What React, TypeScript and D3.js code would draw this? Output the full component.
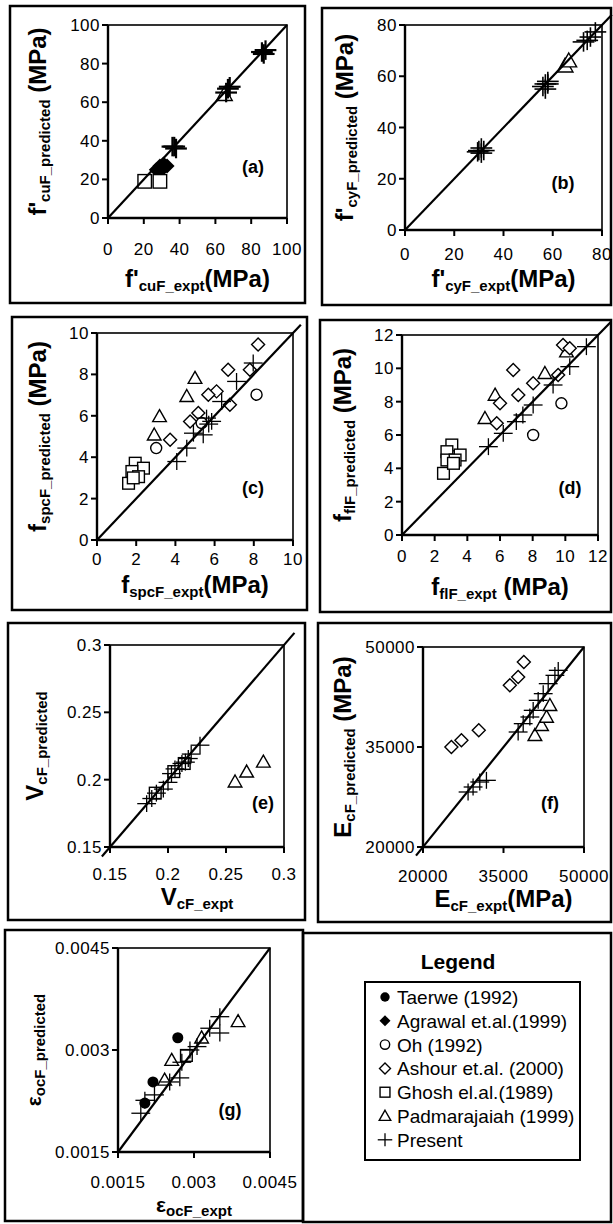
import React from "react";
import * as d3 from "d3";

type Pt = [number, number];

const FONT = "'Liberation Sans', Arial, Helvetica, sans-serif";

// ---------- legend ----------
const legendKeys = ["taerwe", "agrawal", "oh", "ashour", "ghosh", "padma", "present"];
const legendNames = [
  "Taerwe (1992)",
  "Agrawal et.al.(1999)",
  "Oh (1992)",
  "Ashour et.al. (2000)",
  "Ghosh el.al.(1989)",
  "Padmarajaiah (1999)",
  "Present",
];

// ---------- panel (a) f'cuF ----------
const aTicks = [0, 20, 40, 60, 80, 100];
const aAgrawal: Pt[] = [[27, 25], [29, 27], [31, 28], [33, 27], [30, 25]];
const aGhosh: Pt[] = [[20.5, 19], [29, 19]];
const aPadma: Pt[] = [[65, 64]];
const aPresent: Pt[] = [[86, 86], [88, 87], [87, 85], [67, 67], [68, 68], [66, 65], [37, 37], [38, 36], [36, 37]];

// ---------- panel (b) f'cyF ----------
const bTicks = [0, 20, 40, 60, 80];
const bPadma: Pt[] = [[65, 64], [66.5, 66]];
const bPresent: Pt[] = [
  [30, 31], [31, 32], [31, 30], [32, 31], [29.5, 30.5],
  [56, 56], [57, 57], [58, 58], [57, 55], [58, 57],
  [72.5, 73.4], [74, 74], [75.3, 75.3], [77.3, 77.3],
];

// ---------- panel (c) fspcF ----------
const cTicks = [0, 2, 4, 6, 8, 10];
const cGhosh: Pt[] = [[1.95, 3.71], [2.37, 3.47], [1.78, 3.31], [2.12, 3.06], [1.61, 2.74], [1.85, 3.0]];
const cPadma: Pt[] = [[5.0, 7.82], [4.58, 6.94], [3.19, 5.97], [2.92, 5.08]];
const cAshour: Pt[] = [[8.22, 9.44], [7.8, 8.23], [6.69, 8.23], [6.1, 7.18], [5.68, 7.02], [6.78, 6.53], [5.17, 6.13], [4.75, 5.73], [3.73, 4.84]];
const cOh: Pt[] = [[8.14, 7.02], [5.34, 5.65], [3.02, 4.44]];
const cPresent: Pt[] = [[4.07, 3.79], [4.58, 4.44], [4.92, 5.16], [5.42, 5.08], [5.85, 5.73], [5.59, 5.89], [6.36, 6.69], [7.12, 7.66], [7.97, 8.55], [5.7, 5.6]];

// ---------- panel (d) fflF ----------
const dTicks = [0, 2, 4, 6, 8, 10, 12];
const dGhosh: Pt[] = [[3.05, 5.4], [2.75, 5.0], [2.75, 4.5], [3.56, 4.8], [3.25, 4.5], [2.54, 3.7], [3.15, 4.3]];
const dPadma: Pt[] = [[5.7, 8.4], [5.08, 7.0], [8.75, 9.7], [10.07, 11.0]];
const dAshour: Pt[] = [[9.86, 11.4], [10.27, 11.2], [6.81, 9.9], [8.03, 9.1], [7.12, 8.4], [6.0, 7.9], [5.8, 6.7], [9.56, 9.6]];
const dOh: Pt[] = [[9.76, 7.9], [8.03, 6.0]];
const dPresent: Pt[] = [[5.29, 5.3], [6.2, 6.1], [7.0, 6.8], [7.4, 7.2], [8.03, 7.8], [9.25, 9.0], [10.27, 10.1], [11.29, 11.3]];

// ---------- panel (e) VcF ----------
const eTicks = [0.15, 0.2, 0.25, 0.3];
const eGhosh: Pt[] = [[0.189, 0.19], [0.205, 0.206], [0.214, 0.212]];
const ePadma: Pt[] = [[0.2578, 0.1984], [0.2678, 0.2058], [0.2822, 0.2132]];
const ePresent: Pt[] = [
  [0.1816, 0.1822], [0.186, 0.186], [0.19, 0.19], [0.196, 0.193], [0.2, 0.198], [0.203, 0.2045],
  [0.206, 0.208], [0.212, 0.212], [0.215, 0.213], [0.2175, 0.2157], [0.22, 0.219], [0.2276, 0.2256],
];

// ---------- panel (f) EcF ----------
const fTicks = [20000, 35000, 50000];
const fAshour: Pt[] = [[25290, 35000], [27160, 36000], [30390, 37500], [36180, 44250], [37730, 45500], [38790, 47750]];
const fPadma: Pt[] = [[40850, 36750], [42090, 38250], [43020, 39500], [43650, 41250]];
const fPresent: Pt[] = [
  [28400, 28250], [29330, 29000], [30580, 29750], [31820, 30000], [37730, 37250], [38670, 38500],
  [39910, 39500], [40530, 40500], [41460, 42000], [42400, 43000], [43330, 44500], [44580, 45750], [45200, 46500],
];

// ---------- panel (g) εocF ----------
const gTicks = [0.0015, 0.003, 0.0045];
const gTaerwe: Pt[] = [[0.00268, 0.00318], [0.00219, 0.00253], [0.00203, 0.00222]];
const gGhosh: Pt[] = [[0.00285, 0.00292]];
const gPadma: Pt[] = [[0.00387, 0.00342], [0.00315, 0.00318], [0.00256, 0.00285], [0.00242, 0.00256]];
const gPresent: Pt[] = [
  [0.00351, 0.00349], [0.00331, 0.00332], [0.00351, 0.00325], [0.00306, 0.00305], [0.00292, 0.003],
  [0.00276, 0.00282], [0.00272, 0.00259], [0.00252, 0.00253], [0.00222, 0.00234], [0.00203, 0.00226], [0.00195, 0.00207],
];

type Series = { type: string; pts: Pt[] };
type LabelParts = { main: string; sub: string; tail?: string; mainSize?: number };

interface PanelCfg {
  box: [number, number, number, number];
  plot: [number, number, number, number];
  domain: [number, number];
  ticks: number[];
  fmt: (v: number) => string;
  diag: [number, number];
  series: Series[];
  ms: number;
  plusW: number;
  tag: string;
  tagPos: [number, number];
  xLabel: LabelParts;
  yLabel: LabelParts;
  xLabelY: number;
  yLabelX: number;
  xTickDy: number;
}

const intFmt = (v: number) => String(v);

const panels: PanelCfg[] = [
  {
    box: [10, 6, 305, 303], plot: [108, 25, 287, 218], domain: [0, 100], ticks: aTicks, fmt: intFmt,
    diag: [0, 100],
    series: [{ type: "agrawal", pts: aAgrawal }, { type: "ghosh", pts: aGhosh }, { type: "padma", pts: aPadma }, { type: "present", pts: aPresent }],
    ms: 7.5, plusW: 2.2, tag: "(a)", tagPos: [253, 173],
    xLabel: { main: "f'", sub: "cuF_expt", tail: "(MPa)" },
    yLabel: { main: "f'", sub: "cuF_predicted", tail: " (MPa)" },
    xLabelY: 287, yLabelX: 46, xTickDy: 37,
  },
  {
    box: [322, 8, 611, 305], plot: [405, 25, 602, 230], domain: [0, 80], ticks: bTicks, fmt: intFmt,
    diag: [0, 84],
    series: [{ type: "padma", pts: bPadma }, { type: "present", pts: bPresent }],
    ms: 7.5, plusW: 1.6, tag: "(b)", tagPos: [563, 189],
    xLabel: { main: "f'", sub: "cyF_expt", tail: "(MPa)" },
    yLabel: { main: "f'", sub: "cyF_predicted", tail: " (MPa)" },
    xLabelY: 287, yLabelX: 353, xTickDy: 30,
  },
  {
    box: [12, 317, 307, 610], plot: [97, 333, 293, 540], domain: [0, 10], ticks: cTicks, fmt: intFmt,
    diag: [0, 10.4],
    series: [{ type: "ghosh", pts: cGhosh }, { type: "padma", pts: cPadma }, { type: "ashour", pts: cAshour }, { type: "oh", pts: cOh }, { type: "present", pts: cPresent }],
    ms: 6.5, plusW: 1.3, tag: "(c)", tagPos: [253, 494],
    xLabel: { main: "f", sub: "spcF_expt", tail: "(MPa)" },
    yLabel: { main: "f", sub: "spcF_predicted", tail: " (MPa)" },
    xLabelY: 593, yLabelX: 46, xTickDy: 25,
  },
  {
    box: [320, 320, 611, 612], plot: [402, 335, 598, 535], domain: [0, 12], ticks: dTicks, fmt: intFmt,
    diag: [0, 12.8],
    series: [{ type: "ghosh", pts: dGhosh }, { type: "padma", pts: dPadma }, { type: "ashour", pts: dAshour }, { type: "oh", pts: dOh }, { type: "present", pts: dPresent }],
    ms: 6.5, plusW: 1.3, tag: "(d)", tagPos: [570, 494],
    xLabel: { main: "f", sub: "flF_expt", tail: " (MPa)" },
    yLabel: { main: "f", sub: "flF_predicted", tail: " (MPa)" },
    xLabelY: 595, yLabelX: 351, xTickDy: 27,
  },
  {
    box: [8, 623, 305, 920], plot: [110, 645, 284, 847], domain: [0.15, 0.3], ticks: eTicks, fmt: intFmt,
    diag: [0.143, 0.309],
    series: [{ type: "ghosh", pts: eGhosh }, { type: "padma", pts: ePadma }, { type: "present", pts: ePresent }],
    ms: 6.5, plusW: 1.3, tag: "(e)", tagPos: [263, 809],
    xLabel: { main: "V", sub: "cF_expt" },
    yLabel: { main: "V", sub: "cF_predicted" },
    xLabelY: 905, yLabelX: 43, xTickDy: 33,
  },
  {
    box: [318, 623, 611, 922], plot: [423, 647, 584, 847], domain: [20000, 50000], ticks: fTicks, fmt: intFmt,
    diag: [18700, 50000],
    series: [{ type: "ashour", pts: fAshour }, { type: "padma", pts: fPadma }, { type: "present", pts: fPresent }],
    ms: 6.5, plusW: 1.3, tag: "(f)", tagPos: [550, 809],
    xLabel: { main: "E", sub: "cF_expt", tail: "(MPa)" },
    yLabel: { main: "E", sub: "cF_predicted", tail: " (MPa)" },
    xLabelY: 907, yLabelX: 351, xTickDy: 35,
  },
  {
    box: [5, 930, 303, 1221], plot: [118, 948, 270, 1152], domain: [0.0015, 0.0045], ticks: gTicks, fmt: intFmt,
    diag: [0.0015, 0.0045],
    series: [{ type: "ghosh", pts: gGhosh }, { type: "padma", pts: gPadma }, { type: "taerwe", pts: gTaerwe }, { type: "present", pts: gPresent }],
    ms: 6.5, plusW: 1.3, tag: "(g)", tagPos: [230, 1116],
    xLabel: { main: "ε", sub: "ocF_expt", mainSize: 21 },
    yLabel: { main: "ε", sub: "ocF_predicted", mainSize: 21 },
    xLabelY: 1212, yLabelX: 41, xTickDy: 36,
  },
];

function Marker({ type, x, y, s, pw }: { type: string; x: number; y: number; s: number; pw: number }) {
  const sw = 1.4;
  switch (type) {
    case "taerwe":
      return <circle cx={x} cy={y} r={s * 0.85} fill="#000" />;
    case "agrawal":
      return <path d={`M${x},${y - s}L${x + s},${y}L${x},${y + s}L${x - s},${y}Z`} fill="#000" />;
    case "oh":
      return <circle cx={x} cy={y} r={s * 0.85} fill="#fff" stroke="#000" strokeWidth={sw} />;
    case "ashour":
      return <path d={`M${x},${y - s}L${x + s},${y}L${x},${y + s}L${x - s},${y}Z`} fill="#fff" stroke="#000" strokeWidth={sw} />;
    case "ghosh": {
      const h = s * 0.9;
      return <rect x={x - h} y={y - h} width={2 * h} height={2 * h} fill="#fff" stroke="#000" strokeWidth={sw} />;
    }
    case "padma":
      return <path d={`M${x},${y - s * 1.05}L${x + s * 1.05},${y + s * 0.8}L${x - s * 1.05},${y + s * 0.8}Z`} fill="#fff" stroke="#000" strokeWidth={sw} />;
    case "present": {
      const h = s * 1.45;
      const v = s * 1.3;
      return (
        <g stroke="#000" strokeWidth={pw}>
          <line x1={x - h} y1={y} x2={x + h} y2={y} />
          <line x1={x} y1={y - v} x2={x} y2={y + v} />
        </g>
      );
    }
    default:
      return null;
  }
}

function Label({ x, y, rotate, parts }: { x: number; y: number; rotate?: boolean; parts: LabelParts }) {
  const ms = parts.mainSize ?? 24;
  return (
    <text
      x={x}
      y={y}
      textAnchor="middle"
      fontFamily={FONT}
      fontWeight="bold"
      transform={rotate ? `rotate(-90 ${x} ${y})` : undefined}
    >
      <tspan fontSize={ms}>{parts.main}</tspan>
      <tspan fontSize={15} dy={4}>{parts.sub}</tspan>
      {parts.tail ? <tspan fontSize={24} dy={-4}>{parts.tail}</tspan> : null}
    </text>
  );
}

function Panel({ cfg }: { cfg: PanelCfg }) {
  const [px0, py0, px1, py1] = cfg.plot;
  const x = d3.scaleLinear().domain(cfg.domain).range([px0, px1]);
  const y = d3.scaleLinear().domain(cfg.domain).range([py1, py0]);
  const line = d3.line<Pt>().x((d) => x(d[0])).y((d) => y(d[1]));
  const diagPts: Pt[] = [[cfg.diag[0], cfg.diag[0]], [cfg.diag[1], cfg.diag[1]]];
  const [bx0, by0, bx1, by1] = cfg.box;
  const tickLen = 6;
  return (
    <g>
      <rect x={bx0} y={by0} width={bx1 - bx0} height={by1 - by0} fill="none" stroke="#000" strokeWidth={2.5} />
      <rect x={px0} y={py0} width={px1 - px0} height={py1 - py0} fill="none" stroke="#000" strokeWidth={1.6} />
      <line x1={px0} y1={py1} x2={px1} y2={py1} stroke="#000" strokeWidth={2.4} />
      <line x1={px0} y1={py0} x2={px0} y2={py1} stroke="#000" strokeWidth={2.4} />
      {cfg.ticks.map((t) => (
        <g key={"x" + t}>
          <line x1={x(t)} y1={py1} x2={x(t)} y2={py1 + tickLen} stroke="#000" strokeWidth={2} />
          <text x={x(t)} y={py1 + cfg.xTickDy} textAnchor="middle" fontFamily={FONT} fontSize={17} letterSpacing={0.5}>
            {cfg.fmt(t)}
          </text>
        </g>
      ))}
      {cfg.ticks.map((t) => (
        <g key={"y" + t}>
          <line x1={px0 - tickLen} y1={y(t)} x2={px0} y2={y(t)} stroke="#000" strokeWidth={2} />
          <text x={px0 - 8} y={y(t) + 6} textAnchor="end" fontFamily={FONT} fontSize={17} letterSpacing={0.5}>
            {cfg.fmt(t)}
          </text>
        </g>
      ))}
      {cfg.series.map((s) =>
        s.pts.map((p, i) => (
          <Marker key={s.type + i} type={s.type} x={x(p[0])} y={y(p[1])} s={cfg.ms} pw={cfg.plusW} />
        ))
      )}
      <path d={line(diagPts) || ""} stroke="#000" strokeWidth={2.2} fill="none" />
      <text x={cfg.tagPos[0]} y={cfg.tagPos[1]} textAnchor="middle" fontFamily={FONT} fontWeight="bold" fontSize={18}>
        {cfg.tag}
      </text>
      <Label x={(px0 + px1) / 2} y={cfg.xLabelY} parts={cfg.xLabel} />
      <Label x={cfg.yLabelX} y={(py0 + py1) / 2} rotate parts={cfg.yLabel} />
    </g>
  );
}

function Legend() {
  const top = 997;
  const step = 23.8;
  const mx = 385;
  return (
    <g>
      <rect x={303} y={933} width={308} height={289} fill="none" stroke="#000" strokeWidth={2.5} />
      <text x={458} y={969} textAnchor="middle" fontFamily={FONT} fontWeight="bold" fontSize={21}>
        Legend
      </text>
      <rect x={365} y={982} width={215} height={178} fill="none" stroke="#000" strokeWidth={2} />
      {legendKeys.map((k, i) => (
        <g key={k}>
          <Marker type={k} x={mx} y={top + i * step} s={k === "present" ? 5 : 5.5} pw={1.3} />
          <text x={397} y={top + i * step + 7} fontFamily={FONT} fontSize={19}>
            {legendNames[i]}
          </text>
        </g>
      ))}
    </g>
  );
}

export default function App() {
  return (
    <svg
      width={613}
      height={1224}
      viewBox="0 0 613 1224"
      style={{ position: "absolute", left: 0, top: 0, background: "#fff" }}
    >
      <rect x={0} y={0} width={613} height={1224} fill="#fff" />
      {panels.map((p, i) => (
        <Panel key={i} cfg={p} />
      ))}
      <Legend />
    </svg>
  );
}
